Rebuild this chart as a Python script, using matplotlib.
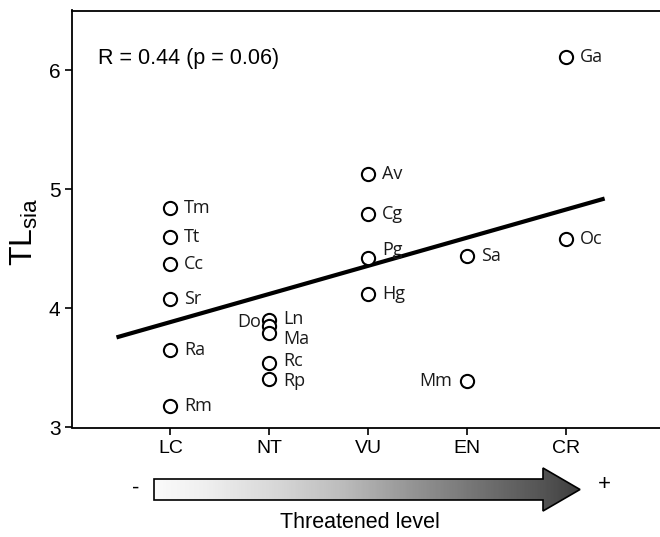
import numpy as np
import matplotlib
matplotlib.use("Agg")
import matplotlib.pyplot as plt
from matplotlib.patches import Polygon

plt.rcParams['font.family'] = ['Liberation Sans', 'DejaVu Sans']
plt.rcParams['mathtext.fontset'] = 'custom'
plt.rcParams['mathtext.rm'] = 'Liberation Sans'

# threat categories (x positions 1..5)
levels = ['LC', 'NT', 'VU', 'EN', 'CR']

# species codes, threat level index and TLsia
species = ['Tm', 'Tt', 'Cc', 'Sr', 'Ra', 'Rm',
           'Ln', 'Do', 'Ma', 'Rc', 'Rp',
           'Av', 'Cg', 'Pg', 'Hg',
           'Sa', 'Mm',
           'Ga', 'Oc']
level_idx = [1, 1, 1, 1, 1, 1,
             2, 2, 2, 2, 2,
             3, 3, 3, 3,
             4, 4,
             5, 5]
tl_sia = [4.84, 4.60, 4.37, 4.08, 3.65, 3.18,
          3.90, 3.85, 3.79, 3.54, 3.41,
          5.13, 4.79, 4.42, 4.12,
          4.44, 3.39,
          6.11, 4.58]

r_text = 'R = 0.44 (p = 0.06)'

# label offsets in points (dx, dy, ha) - default is to the right
offsets = {'Do': (-6, 3, 'right'), 'Mm': (-11, 0, 'right'),
           'Pg': (10, 6, 'left'), 'Ma': (10, -4, 'left'),
           'Ln': (10, 1, 'left'), 'Rc': (10, 1.5, 'left'),
           'Rp': (10, -1.5, 'left')}

fig = plt.figure(figsize=(6.6, 5.37), dpi=100)
W, H = 660, 537
ax = fig.add_axes([71.5/W, (H-427.5)/H, (W-71.5)/W, (427.5-10.5)/H])

x = np.array(level_idx, dtype=float)
y = np.array(tl_sia)
ax.plot(x, y, 'o', mfc='white', mec='black', ms=9.5, mew=1.5, zorder=3)

for name, xi, yi in zip(species, x, y):
    dx, dy, ha = offsets.get(name, (10, 0, 'left'))
    ax.annotate(name, (xi, yi), xytext=(dx, dy), textcoords='offset points',
                ha=ha, va='center', fontsize=13, family=['Open Sans', 'DejaVu Sans'],
                color='#1a1a1a')

# regression line
b, a = np.polyfit(x, y, 1)
xl = np.array([0.475, 5.37])
ax.plot(xl, a + b*xl, color='black', lw=3, zorder=2)

ax.text(0.27, 6.1, r_text, fontsize=15.5, va='center', ha='left')

ax.set_xlim(0, 5.95)
ax.set_ylim(3, 6.5)
ax.set_xticks(range(1, 6))
ax.set_xticklabels(levels)
ax.set_yticks([3, 4, 5, 6])
ax.tick_params(axis='x', labelsize=14, length=5, width=1.2, pad=4)
ax.tick_params(axis='y', labelsize=15, length=5, width=1.2, pad=3)
ax.spines['right'].set_visible(False)
for s in ['left', 'top', 'bottom']:
    ax.spines[s].set_linewidth(1.3)
ax.set_ylabel(r'TL$_{\rm sia}$', fontsize=23)
ax.yaxis.set_label_coords(-0.053, 0.47)

# gradient arrow underneath, drawn in pixel coordinates
ax2 = fig.add_axes([0, 0, 1, 1], zorder=-1)
ax2.set_xlim(0, W)
ax2.set_ylim(H, 0)
ax2.axis('off')
verts = [(154, 479), (543, 479), (543, 468), (580, 489.5),
         (543, 511), (543, 500), (154, 500)]
arrow = Polygon(verts, closed=True, fc='none', ec='black', lw=1.2, zorder=3)
ax2.add_patch(arrow)
grad = np.linspace(0, 1, 256).reshape(1, -1)
im = ax2.imshow(grad, cmap='Greys', vmin=-0.05, vmax=1.25, aspect='auto',
                extent=[154, 580, 511, 468], interpolation='bilinear', zorder=2)
im.set_clip_path(arrow)
ax2.text(136, 488, '-', fontsize=16, ha='center', va='center')
ax2.text(604, 485, '+', fontsize=16, ha='center', va='center')
ax2.text(360, 522, 'Threatened level', fontsize=15.5, ha='center', va='center')

fig.savefig('out.png', dpi=100)
